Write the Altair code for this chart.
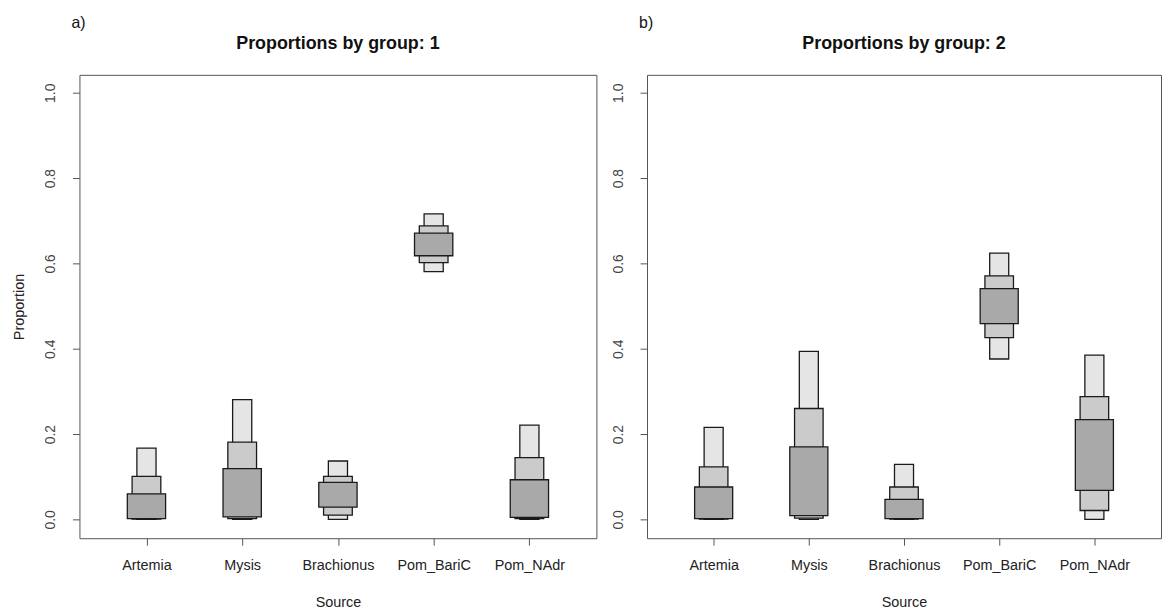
import altair as alt
import pandas as pd

sources = ["Artemia", "Mysis", "Brachionus", "Pom_BariC", "Pom_NAdr"]
levels = ["95%", "75%", "50%"]
y_ticks = [0.0, 0.2, 0.4, 0.6, 0.8, 1.0]

# Group 1 credible intervals (lower / upper) per source
g1_lo95 = [0.000, 0.000, 0.000, 0.581, 0.000]
g1_hi95 = [0.167, 0.281, 0.137, 0.716, 0.221]
g1_lo75 = [0.001, 0.002, 0.010, 0.602, 0.002]
g1_hi75 = [0.101, 0.181, 0.101, 0.688, 0.145]
g1_lo50 = [0.002, 0.006, 0.029, 0.618, 0.005]
g1_hi50 = [0.060, 0.119, 0.087, 0.671, 0.093]

# Group 2 credible intervals (lower / upper) per source
g2_lo95 = [0.000, 0.000, 0.000, 0.376, 0.000]
g2_hi95 = [0.216, 0.394, 0.129, 0.624, 0.385]
g2_lo75 = [0.001, 0.003, 0.001, 0.426, 0.021]
g2_hi75 = [0.123, 0.260, 0.076, 0.571, 0.288]
g2_lo50 = [0.002, 0.009, 0.002, 0.459, 0.068]
g2_hi50 = [0.076, 0.170, 0.047, 0.541, 0.234]

HALF = {"95%": 0.10, "75%": 0.15, "50%": 0.20}
FILL = ["#e5e5e5", "#cbcbcb", "#a9a9a9"]
FONT = "Liberation Sans"


def make_df(bounds):
    rows = []
    for lev in levels:
        lo, hi = bounds[lev]
        for i, s in enumerate(sources):
            rows.append({"source": s, "pos": i + 1, "level": lev,
                         "lo": lo[i], "hi": hi[i]})
    df = pd.DataFrame(rows)
    df["x1"] = df["pos"] - df["level"].map(HALF)
    df["x2"] = df["pos"] + df["level"].map(HALF)
    return df


label_expr = "[" + ",".join("'%s'" % s for s in sources) + "][datum.value - 1]"


def panel(df, title, tag, width, ytitle):
    xscale = alt.Scale(domain=[0.3, 5.7], nice=False, zero=False)
    yscale = alt.Scale(domain=[-0.044, 1.042], nice=False, zero=False)
    xaxis = alt.Axis(values=[1, 2, 3, 4, 5], labelExpr=label_expr, title="Source",
                     grid=False, domain=False, tickSize=7, tickColor="#555",
                     labelAngle=0, labelFont=FONT, labelFontSize=14.5,
                     labelColor="#222", labelPadding=14, titleFont=FONT,
                     titleFontSize=14.5, titleFontWeight="normal", titleColor="#222",
                     titlePadding=23, minExtent=35, maxExtent=35)
    yargs = dict(values=y_ticks, format=".1f", grid=False, domain=False,
                 tickSize=7, tickColor="#555", labelAngle=270,
                 labelAlign="center", labelBaseline="bottom", labelFont=FONT,
                 labelFontSize=14, labelColor="#444", labelPadding=15,
                 minExtent=36, maxExtent=36)
    if ytitle:
        yaxis = alt.Axis(title=ytitle, titleFont=FONT, titleFontSize=14.5,
                         titleFontWeight="normal", titleColor="#222",
                         titlePadding=17, **yargs)
    else:
        yaxis = alt.Axis(title=None, **yargs)

    boxes = alt.Chart(df).mark_rect(stroke="#1a1a1a", strokeWidth=1.3).encode(
        x=alt.X("x1:Q", scale=xscale, axis=xaxis),
        x2="x2:Q",
        y=alt.Y("lo:Q", scale=yscale, axis=yaxis),
        y2="hi:Q",
        color=alt.Color("level:N", scale=alt.Scale(domain=levels, range=FILL),
                        legend=None),
    )
    ttl = alt.Chart(pd.DataFrame({"t": [title]})).mark_text(
        font=FONT, fontSize=18, fontWeight="bold", baseline="alphabetic",
        align="center", color="#111"
    ).encode(x=alt.value(width / 2), y=alt.value(-26), text="t:N")
    tg = alt.Chart(pd.DataFrame({"t": [tag]})).mark_text(
        font=FONT, fontSize=16, align="left", baseline="middle", color="#111"
    ).encode(x=alt.value(-8), y=alt.value(-52), text="t:N")
    return alt.layer(boxes, ttl, tg).properties(width=width, height=467)


df1 = make_df({"95%": (g1_lo95, g1_hi95), "75%": (g1_lo75, g1_hi75),
               "50%": (g1_lo50, g1_hi50)})
df2 = make_df({"95%": (g2_lo95, g2_hi95), "75%": (g2_lo75, g2_hi75),
               "50%": (g2_lo50, g2_hi50)})

p1 = panel(df1, "Proportions by group: 1", "a)", 521, "Proportion")
p2 = panel(df2, "Proportions by group: 2", "b)", 518, None)

chart = alt.hconcat(p1, p2, spacing=51, bounds="flush").properties(
    padding={"left": 3, "top": 4, "right": 0, "bottom": 0}
).configure_view(stroke="#555", strokeWidth=1)

chart.save("out.html", embed_options={"renderer": "svg", "actions": False})
